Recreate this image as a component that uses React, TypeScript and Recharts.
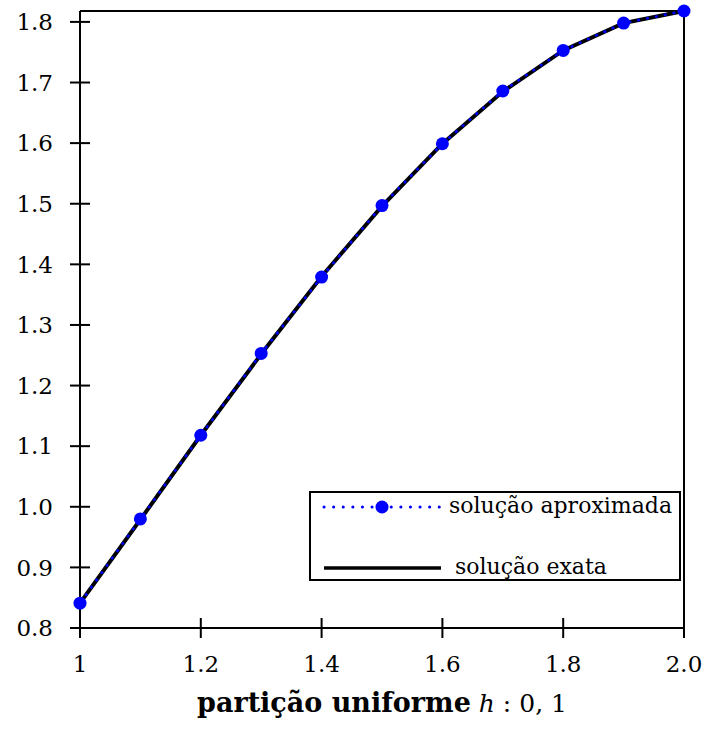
import React from "react";
import { LineChart, Line, XAxis, YAxis, ReferenceLine } from "recharts";

// x_i for h = 0.1
const xs = [1.0, 1.1, 1.2, 1.3, 1.4, 1.5, 1.6, 1.7, 1.8, 1.9, 2.0];
const approxValues = [0.841, 0.98, 1.118, 1.253, 1.379, 1.497, 1.599, 1.686, 1.753, 1.798, 1.818];
const exactValues = [0.841, 0.979, 1.118, 1.252, 1.38, 1.496, 1.599, 1.685, 1.753, 1.798, 1.818];

const xTicks = [1, 1.2, 1.4, 1.6, 1.8, 2.0];
const xTickLabels = ["1", "1.2", "1.4", "1.6", "1.8", "2.0"];
const yTicks = [0.8, 0.9, 1.0, 1.1, 1.2, 1.3, 1.4, 1.5, 1.6, 1.7, 1.8];
const yTickLabels = ["0.8", "0.9", "1.0", "1.1", "1.2", "1.3", "1.4", "1.5", "1.6", "1.7", "1.8"];

const Y_MIN = 0.8;
const Y_MAX = 1.818;

const data = xs.map((x, i) => ({ x, approx: approxValues[i], exact: exactValues[i] }));

const FONT = "DejaVu Serif";
const BLUE = "#0000ff";

// ticks cross the axis line (half inside, half outside)
const YTick = ({ x, y, payload }: any) => {
  const i = yTicks.indexOf(payload.value);
  return (
    <g>
      <line x1={x - 10} x2={x + 10} y1={y} y2={y} stroke="#000" strokeWidth={2} />
      <text x={x - 27} y={y} dy="0.36em" textAnchor="end" fontFamily={FONT} fontSize={23} fill="#000">
        {i >= 0 ? yTickLabels[i] : payload.value}
      </text>
    </g>
  );
};

const XTick = ({ x, y, payload }: any) => {
  const i = xTicks.indexOf(payload.value);
  return (
    <g>
      <line x1={x} x2={x} y1={y - 10} y2={y + 10} stroke="#000" strokeWidth={2} />
      <text x={x} y={y + 44} textAnchor="middle" fontFamily={FONT} fontSize={23} fill="#000">
        {i >= 0 ? xTickLabels[i] : payload.value}
      </text>
    </g>
  );
};

const XTitle = (props: any) => {
  const vb = props.viewBox || { x: 80, width: 604, y: 628 };
  return (
    <text x={vb.x + vb.width / 2} y={vb.y + 84} textAnchor="middle" fill="#000" fontSize={25} fontFamily={FONT}>
      <tspan fontWeight="bold" fontSize={27}>
        partição uniforme
      </tspan>
      <tspan fontStyle="italic"> h</tspan>
      <tspan> : 0, 1</tspan>
    </text>
  );
};

function LegendBox() {
  return (
    <div
      style={{
        position: "absolute",
        left: 309,
        top: 491,
        width: 368,
        height: 86,
        border: "2px solid #000",
        background: "#fff",
        fontFamily: FONT,
        fontSize: 22,
      }}
    >
      <svg width={130} height={86} style={{ position: "absolute", left: 0, top: 0 }}>
        <line x1={13} x2={133} y1={14} y2={14} stroke={BLUE} strokeWidth={3} strokeDasharray="0.1 9.5" strokeLinecap="round" />
        <circle cx={71} cy={14} r={6.5} fill={BLUE} />
        <line x1={13} x2={133} y1={75} y2={75} stroke="#000" strokeWidth={3.5} />
      </svg>
      <div style={{ position: "absolute", left: 138, top: 0, whiteSpace: "nowrap" }}>solução aproximada</div>
      <div style={{ position: "absolute", left: 144, top: 61, whiteSpace: "nowrap" }}>solução exata</div>
    </div>
  );
}

export default function App() {
  return (
    <div style={{ position: "absolute", left: 0, top: 0, width: 707, height: 735, background: "#fff" }}>
      <LineChart width={707} height={735} data={data} margin={{ top: 11, right: 23, left: 0, bottom: 0 }}>
        <XAxis
          dataKey="x"
          type="number"
          domain={[1, 2]}
          ticks={xTicks}
          interval={0}
          height={107}
          tickSize={0}
          tickMargin={0}
          tickLine={false}
          axisLine={{ stroke: "#000", strokeWidth: 2 }}
          tick={<XTick />}
          label={XTitle}
        />
        <YAxis
          type="number"
          domain={[Y_MIN, Y_MAX]}
          ticks={yTicks}
          interval={0}
          width={80}
          tickSize={0}
          tickMargin={0}
          tickLine={false}
          axisLine={{ stroke: "#000", strokeWidth: 2 }}
          tick={<YTick />}
        />
        <ReferenceLine y={Y_MAX} stroke="#000" strokeWidth={2} />
        <ReferenceLine x={2} stroke="#000" strokeWidth={2} />
        <Line
          dataKey="exact"
          type="linear"
          stroke="#000"
          strokeWidth={4}
          dot={false}
          activeDot={false}
          isAnimationActive={false}
        />
        <Line
          dataKey="approx"
          type="linear"
          stroke={BLUE}
          strokeWidth={2.5}
          strokeDasharray="3 6"
          dot={{ r: 6.5, fill: BLUE, stroke: "none" }}
          activeDot={false}
          isAnimationActive={false}
        />
      </LineChart>
      <LegendBox />
    </div>
  );
}
